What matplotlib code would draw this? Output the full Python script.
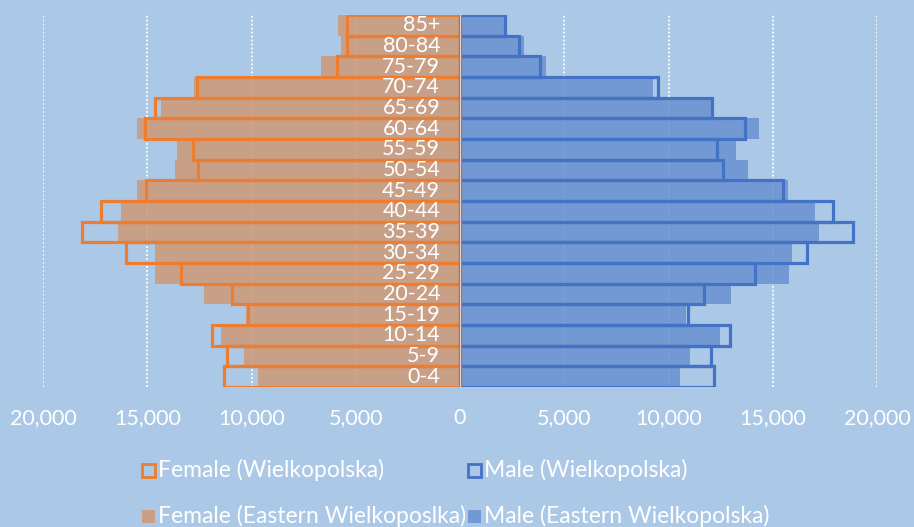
import matplotlib
matplotlib.use("Agg")
import matplotlib.pyplot as plt
from matplotlib.patches import Rectangle
from matplotlib.ticker import FuncFormatter

plt.rcParams['font.family'] = ['Lato', 'DejaVu Sans']

age_groups = ["0-4", "5-9", "10-14", "15-19", "20-24", "25-29", "30-34", "35-39",
              "40-44", "45-49", "50-54", "55-59", "60-64", "65-69", "70-74",
              "75-79", "80-84", "85+"]

female_wlkp = [11300, 11170, 11890, 10150, 10920, 13370, 16000, 18150,
               17220, 15060, 12550, 12810, 15120, 14610, 12620, 5880, 5430, 5430]
male_wlkp = [12180, 12020, 12950, 10920, 11720, 14150, 16660, 18870,
             17900, 15480, 12600, 12330, 13680, 12090, 9500, 3850, 2850, 2160]
female_east = [9670, 10360, 11480, 10280, 12290, 14630, 14610, 16390,
               16270, 15490, 13670, 13570, 15480, 14340, 12750, 6680, 5720, 5840]
male_east = [10550, 11020, 12460, 10850, 12980, 15760, 15940, 17230,
             17030, 15720, 13810, 13220, 14340, 12050, 9240, 4110, 3070, 2100]

xticks = [-20000, -15000, -10000, -5000, 0, 5000, 10000, 15000, 20000]

BG = "#ABC8E7"
ORANGE = "#ED7D31"
BLUE = "#4472C4"
TAN = "#CE9977"
SKY = "#6991D1"
FILL_ALPHA = 0.85
FS = 15.5
FS_LEG = 16.5

W, H = 914, 527
fig = plt.figure(figsize=(W / 100, H / 100), dpi=100, facecolor=BG)
ax = fig.add_axes([43 / W, 1 - 387 / H, (877 - 43) / W, (387 - 15) / H])
ax.set_facecolor(BG)

y = list(range(len(age_groups)))

# dotted white gridlines behind the bars
for xv in xticks:
    ax.axvline(xv, color="white", lw=1.3, ls=(0, (1, 1.2)), zorder=0)

# Eastern Wielkopolska: filled, slightly see-through
ax.barh(y, [-v for v in female_east], height=1.0, color=TAN, alpha=FILL_ALPHA,
        lw=0, zorder=2)
ax.barh(y, male_east, height=1.0, color=SKY, alpha=FILL_ALPHA, lw=0, zorder=2)

# Wielkopolska: outlined boxes on top
ax.barh(y, [-v for v in female_wlkp], height=1.0, facecolor="none",
        edgecolor=ORANGE, lw=2.3, zorder=3)
ax.barh(y, male_wlkp, height=1.0, facecolor="none", edgecolor=BLUE,
        lw=2.3, zorder=3)

ax.axvline(0, color="#EBD3C0", lw=1.0, zorder=4)

for yi, lab in zip(y, age_groups):
    ax.text(-950, yi, lab, ha="right", va="center", color="white",
            fontsize=FS, zorder=5)

ax.set_xlim(-20000, 20000)
ax.set_ylim(-0.5, len(age_groups) - 0.5)
ax.set_yticks([])
ax.set_xticks(xticks)
ax.xaxis.set_major_formatter(FuncFormatter(lambda v, p: f"{abs(int(v)):,}"))
ax.tick_params(axis="x", length=0, pad=15, colors="white", labelsize=FS)
for s in ax.spines.values():
    s.set_visible(False)

# legend drawn in figure pixels
def fig_xy(px, py):
    return px / W, 1 - py / H

legend_items = [
    (142, 470, "none", ORANGE, 1.0, "Female (Wielkopolska)"),
    (468, 470, "none", BLUE, 1.0, "Male (Wielkopolska)"),
    (142, 516, TAN, "none", FILL_ALPHA, "Female (Eastern Wielkoposlka)"),
    (468, 516, SKY, "none", FILL_ALPHA, "Male (Eastern Wielkopolska)"),
]
for px, py, fc, ec, a, text in legend_items:
    x0, y0 = fig_xy(px, py + 6.5)
    rect = Rectangle((x0, y0), 13 / W, 13 / H, transform=fig.transFigure,
                     facecolor=fc, edgecolor=ec, lw=2.0, alpha=a)
    fig.add_artist(rect)
    tx, ty = fig_xy(px + 16, py)
    fig.text(tx, ty, text, color="white", fontsize=FS_LEG, ha="left", va="center")

fig.savefig("out.png", dpi=100, facecolor=BG)
